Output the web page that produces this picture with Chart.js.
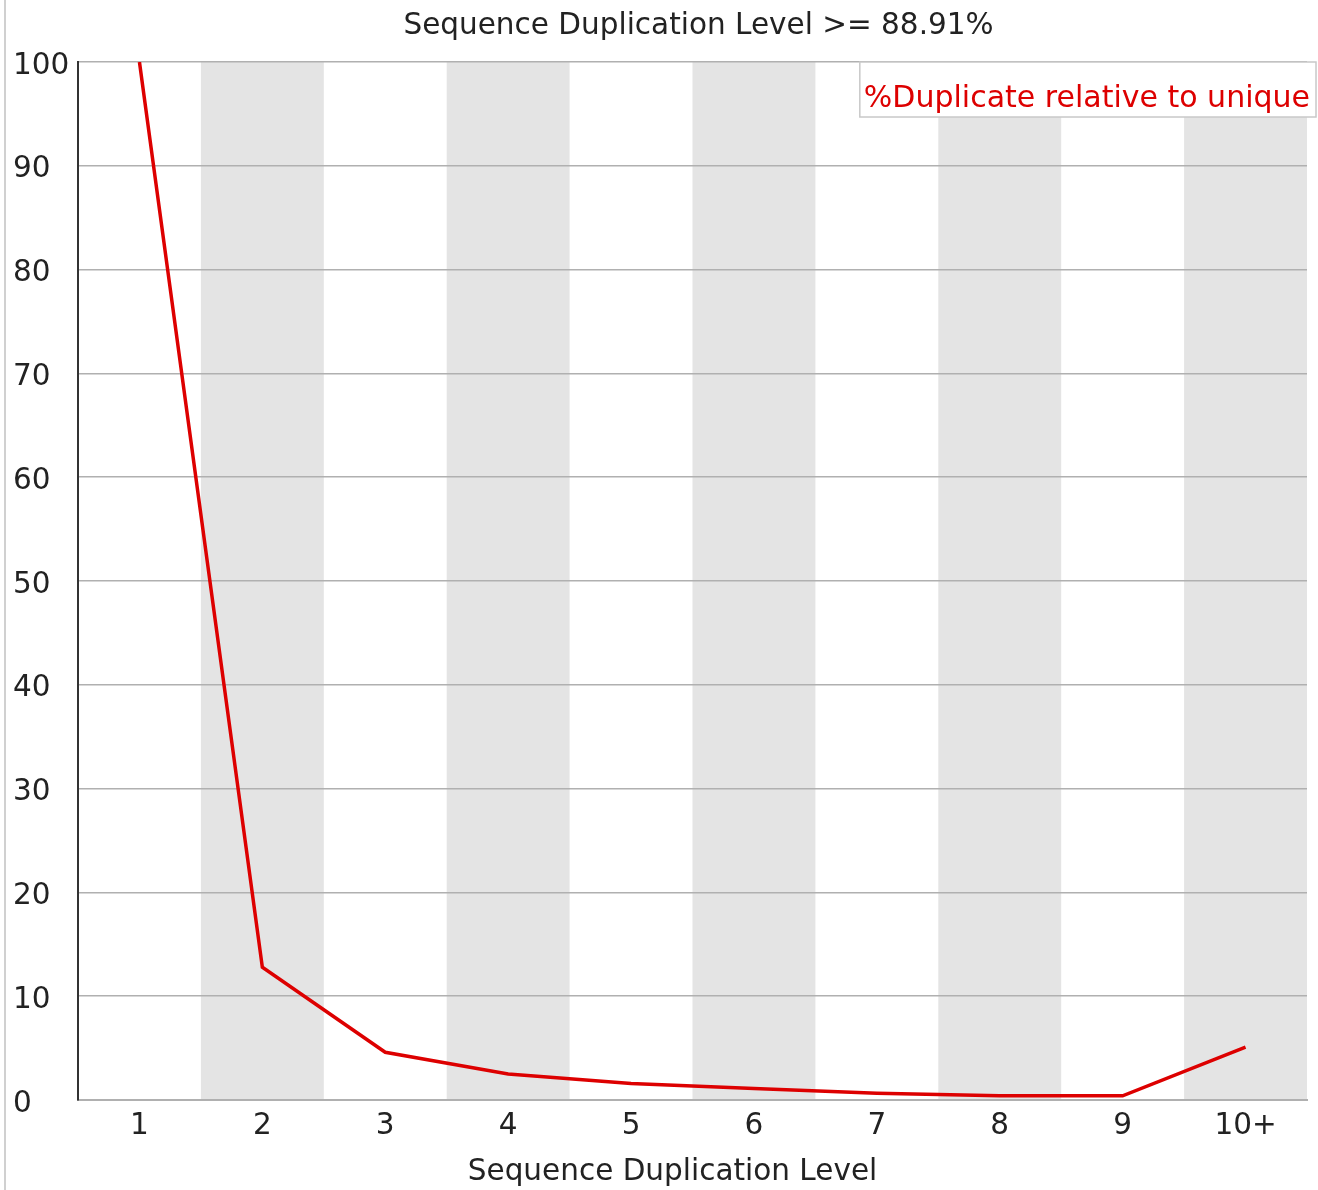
<!DOCTYPE html>
<html>
<head>
<meta charset="utf-8">
<script src="https://cdn.jsdelivr.net/npm/chart.js@4/dist/chart.umd.min.js"></script>
<style>
  html, body { margin: 0; padding: 0; background: #fff; }
  #wrap { width: 1318px; height: 1190px; }
</style>
</head>
<body>
<div id="wrap"><canvas id="dup-chart" width="1318" height="1190"></canvas></div>
<script>
// chart data
const levels = ['1', '2', '3', '4', '5', '6', '7', '8', '9', '10+'];
const dupRelative = [100, 12.8, 4.6, 2.5, 1.6, 1.1, 0.65, 0.4, 0.4, 5.1];
const yTicks = [0, 10, 20, 30, 40, 50, 60, 70, 80, 90, 100];
const titleText = 'Sequence Duplication Level >= 88.91%';
const xTitleText = 'Sequence Duplication Level';
const seriesLabel = '%Duplicate relative to unique';

const FONT = "'DejaVu Sans', sans-serif";
const TEXT_SIZE = 29.5;

// grey stripes behind every other category + the thin window edge on the left
const stripes = {
  id: 'stripes',
  beforeDraw(chart) {
    const ctx = chart.ctx;
    const area = chart.chartArea;
    const x = chart.scales.x;
    const half = (x.getPixelForValue(1) - x.getPixelForValue(0)) / 2;
    ctx.save();
    ctx.fillStyle = '#e4e4e4';
    for (let i = 1; i < levels.length; i += 2) {
      const c = x.getPixelForValue(i);
      ctx.fillRect(c - half, area.top, half * 2, area.bottom - area.top);
    }
    ctx.strokeStyle = '#d0d0d0';
    ctx.lineWidth = 2;
    ctx.beginPath();
    ctx.moveTo(5, 0);
    ctx.lineTo(5, chart.height);
    ctx.stroke();
    ctx.restore();
  }
};

// chart title and x axis title, placed like the original
const titles = {
  id: 'titles',
  afterDraw(chart) {
    const ctx = chart.ctx;
    const area = chart.chartArea;
    const mid = (area.left + area.right) / 2;
    ctx.save();
    ctx.font = TEXT_SIZE + 'px ' + FONT;
    ctx.fillStyle = '#222';
    ctx.textAlign = 'center';
    ctx.textBaseline = 'middle';
    ctx.fillText(titleText, mid + 6, 26);
    ctx.fillText(xTitleText, mid - 20, chart.scales.x.bottom - 18);
    ctx.restore();
  }
};

// boxed legend in the top right corner
const boxLegend = {
  id: 'boxLegend',
  afterDraw(chart) {
    const ctx = chart.ctx;
    const ds = chart.data.datasets[0];
    ctx.save();
    ctx.font = '30px ' + FONT;
    const w = ctx.measureText(ds.label).width + 10;
    const right = chart.width - 2;
    const top = chart.chartArea.top;
    ctx.fillStyle = '#fff';
    ctx.fillRect(right - w, top, w, 55);
    ctx.strokeStyle = '#c8c8c8';
    ctx.lineWidth = 1.5;
    ctx.strokeRect(right - w, top, w, 55);
    ctx.fillStyle = ds.borderColor;
    ctx.textBaseline = 'middle';
    ctx.textAlign = 'left';
    ctx.fillText(ds.label, right - w + 4, top + 37);
    ctx.restore();
  }
};

const ctx = document.getElementById('dup-chart').getContext('2d');
new Chart(ctx, {
  type: 'line',
  data: {
    labels: levels,
    datasets: [{
      label: seriesLabel,
      data: dupRelative,
      borderColor: '#dd0000',
      borderWidth: 3.5,
      pointRadius: 0,
      tension: 0,
      fill: false
    }]
  },
  options: {
    responsive: false,
    animation: false,
    layout: { padding: { left: 13, right: 11, top: 62, bottom: 0 } },
    plugins: {
      legend: { display: false },
      tooltip: { enabled: false },
      title: { display: false }
    },
    scales: {
      x: {
        offset: true,
        grid: { display: false, drawTicks: false },
        border: { display: true, color: '#b0b0b0', width: 2 },
        ticks: { color: '#222', padding: 9, font: { family: FONT, size: TEXT_SIZE } },
        afterFit(scale) { scale.height = 90; }
      },
      y: {
        min: 0,
        max: 100,
        afterBuildTicks(scale) { scale.ticks = yTicks.map(v => ({ value: v })); },
        grid: { color: '#b0b0b0', lineWidth: 1.5, drawTicks: false },
        border: { display: true, color: '#333', width: 2 },
        ticks: {
          color: '#222',
          crossAlign: 'far',
          padding: 8,
          labelOffset: 4,
          font: { family: FONT, size: TEXT_SIZE }
        },
        afterFit(scale) { scale.width = 65; }
      }
    }
  },
  plugins: [stripes, titles, boxLegend]
});
</script>
</body>
</html>
